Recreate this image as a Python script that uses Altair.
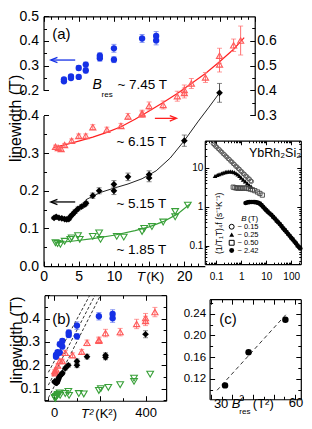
import altair as alt
import pandas as pd

# ---------------- data ----------------
# Panel (a): ESR linewidth vs temperature for four resonance fields
blue_T = [2.9, 2.9, 3.9, 3.9, 5.0, 5.0, 6.0, 6.0, 8.0, 8.0, 10.0, 10.0, 14.0, 16.0, 16.0]
blue_lw = [0.236, 0.244, 0.249, 0.256, 0.254, 0.290, 0.280, 0.304, 0.330, 0.340, 0.324, 0.370, 0.410, 0.420, 0.402]
blue_err = [0.006, 0.006, 0.007, 0.007, 0.007, 0.010, 0.010, 0.010, 0.012, 0.012, 0.012, 0.016, 0.016, 0.018, 0.018]

red_T = [1.7, 2.1, 2.5, 3.0, 4.0, 5.0, 6.0, 7.0, 9.0, 11.0, 12.0, 14.0, 14.0, 15.0, 17.0, 19.0, 20.0, 20.0, 21.0, 23.0, 25.0, 25.0, 27.0, 28.0]
red_lw = [0.175, 0.170, 0.166, 0.182, 0.199, 0.218, 0.218, 0.253, 0.243, 0.258, 0.296, 0.305, 0.309, 0.338, 0.342, 0.377, 0.390, 0.402, 0.428, 0.452, 0.504, 0.539, 0.581, 0.600]
red_err = [0.006, 0.006, 0.006, 0.006, 0.007, 0.008, 0.008, 0.010, 0.010, 0.010, 0.012, 0.012, 0.012, 0.016, 0.016, 0.020, 0.020, 0.020, 0.020, 0.020, 0.030, 0.030, 0.025, 0.058]
red_fit_T = [1.5, 3.0, 5.0, 7.0, 9.0, 11.0, 13.0, 15.0, 17.0, 19.0, 21.0, 23.0, 25.0, 27.0, 28.5]
red_fit = [0.172, 0.182, 0.197, 0.213, 0.232, 0.255, 0.285, 0.318, 0.352, 0.388, 0.428, 0.468, 0.515, 0.565, 0.612]

blk_T = [1.5, 1.8, 2.2, 2.6, 3.0, 3.3, 3.6, 3.8, 4.0, 4.25, 4.5, 4.9, 5.4, 5.85, 6.05, 7.0, 7.9, 10.0, 10.0, 12.0, 15.0, 15.0, 20.0, 25.0]
blk_lw = [0.128, 0.131, 0.128, 0.127, 0.125, 0.124, 0.125, 0.131, 0.135, 0.140, 0.145, 0.152, 0.158, 0.163, 0.167, 0.187, 0.200, 0.200, 0.217, 0.237, 0.234, 0.243, 0.333, 0.460]
blk_err = [0.004, 0.004, 0.004, 0.004, 0.004, 0.004, 0.004, 0.004, 0.004, 0.004, 0.005, 0.005, 0.005, 0.005, 0.005, 0.007, 0.008, 0.010, 0.010, 0.010, 0.010, 0.010, 0.015, 0.025]
blk_fit_T = [6.0, 8.0, 10.0, 12.0, 14.0, 16.0, 18.0, 20.0, 22.0, 23.5, 25.0]
blk_fit = [0.176, 0.195, 0.207, 0.218, 0.232, 0.253, 0.287, 0.333, 0.385, 0.422, 0.460]

grn_T = [1.7, 2.0, 2.4, 3.0, 3.8, 4.0, 4.9, 5.15, 7.0, 7.9, 8.1, 10.4, 11.4, 14.0, 14.3, 15.4, 17.0, 18.7, 18.7, 20.5]
grn_lw = [0.062, 0.060, 0.058, 0.066, 0.071, 0.075, 0.081, 0.071, 0.079, 0.088, 0.071, 0.079, 0.077, 0.092, 0.100, 0.105, 0.117, 0.145, 0.131, 0.162]
grn_fit_T = [1.7, 4.0, 7.0, 10.0, 13.0, 15.0, 17.0, 19.0, 20.8]
grn_fit = [0.062, 0.066, 0.073, 0.082, 0.094, 0.104, 0.118, 0.138, 0.165]

# Inset: (1/T1T)_4f vs T (log-log) for four fields
circ_x = [0.075, 0.085, 0.095, 0.105, 0.12, 0.135, 0.15, 0.17, 0.19, 0.215, 0.24, 0.27, 0.3, 0.34, 0.38, 0.43,
          0.48, 0.54, 0.6, 0.68, 0.76, 0.85, 0.95, 1.07, 1.2, 1.35, 1.5, 1.7, 1.9, 2.15, 2.4, 2.6]
circ_y = [42, 39, 36, 34.5, 31, 29.5, 27, 25.5, 23, 22, 20, 19, 17.2, 16.5, 14.8, 14.3,
          12.8, 12.3, 11.0, 10.7, 9.6, 9.3, 8.3, 8.0, 7.1, 6.9, 6.2, 6.0, 5.3, 5.2, 4.6, 4.5]
tri_x = [0.09, 0.11, 0.13, 0.16, 0.19, 0.23, 0.27, 0.32, 0.38, 0.45, 0.53, 0.62, 0.73, 0.86, 1.0, 1.2, 1.45, 1.75, 2.1, 2.5]
tri_y = [6.2, 6.6, 6.9, 7.2, 7.5, 7.8, 8.0, 8.1, 8.1, 8.0, 7.7, 7.3, 6.8, 6.2, 5.6, 5.0, 4.5, 4.0, 3.6, 3.3]
sq_x = [0.48, 0.56, 0.65, 0.75, 0.87, 1.0, 1.15, 1.35, 1.6, 1.9, 2.3, 2.8, 3.5, 4.5, 5.6, 7.0]
sq_y = [3.2, 3.1, 3.05, 3.0, 3.05, 3.0, 3.0, 3.05, 3.0, 2.95, 2.85, 2.75, 2.6, 2.4, 2.2, 2.0]
bc_x = [1.5, 1.8, 2.1, 2.5, 3.0, 3.5, 4.1, 4.8, 5.6, 6.5, 7.5, 8.7, 10, 11.5, 13.5, 16, 19, 22, 26, 30, 35, 41,
        48, 56, 65, 75, 87, 100, 115, 135, 155, 180, 205, 230]
bc_y = [1.25, 1.3, 1.32, 1.33, 1.33, 1.32, 1.3, 1.26, 1.2, 1.1, 1.0, 0.9, 0.82, 0.75, 0.68, 0.62, 0.55, 0.5, 0.44,
        0.4, 0.36, 0.32, 0.28, 0.25, 0.225, 0.2, 0.18, 0.16, 0.145, 0.128, 0.115, 0.1, 0.092, 0.085]
leg_labels = ["~ 0.15", "~ 0.25", "~ 0.50", "~ 2.42"]

# Panel (c): linewidth slope vs B_res^2
c_B = [5.15, 6.15, 7.45]
c_lw = [0.108, 0.169, 0.229]
c_fit_x = [22.7, 56.0]
c_fit_y = [0.099, 0.2395]

# Panel (b): dashed guide lines (T^2, linewidth)
dash_id = ["A", "A", "B", "B", "C", "C"]
dash_T2 = [-25, 155, -25, 178, -25, 202]
dash_lw = [0.170, 0.498, 0.115, 0.498, 0.060, 0.498]

# ---------------- layout helpers ----------------
W, H = 296, 413
FONT = "Liberation Sans"


def px(x):
    return (x - 2.0) * 0.96


def py(y):
    return y * 0.972 + 1.5


def S(dom, a, b, typ="linear"):
    return alt.Scale(type=typ, domain=dom, range=[a, b], zero=False, nice=False)


layers = []


def ax_layer(ch, scale, dom, **kw):
    base = dict(title=None, grid=False, labelFont=FONT, labelColor="black", domainColor="black",
                tickColor="black", domainWidth=1.2, tickWidth=1, labelOverlap=False, labelFlush=False)
    base.update(kw)
    df = pd.DataFrame({"v": dom})
    if ch == "x":
        enc = dict(x=alt.X("v:Q", scale=scale, axis=alt.Axis(**base)))
    else:
        enc = dict(y=alt.Y("v:Q", scale=scale, axis=alt.Axis(**base)))
    layers.append(alt.Chart(df).mark_point(opacity=0).encode(**enc))


def edge(side, scale, dom, pos, major, minor, maj=5, mnr=3):
    if side == "left":
        ch, orient, off = "y", "right", px(pos) - W
    elif side == "right":
        ch, orient, off = "y", "left", -px(pos)
    elif side == "top":
        ch, orient, off = "x", "bottom", py(pos) - H
    else:
        ch, orient, off = "x", "top", -py(pos)
    ax_layer(ch, scale, dom, orient=orient, offset=off, values=major, labels=False, ticks=True,
             tickSize=maj, domain=True)
    if minor:
        ax_layer(ch, scale, dom, orient=orient, offset=off, values=minor, labels=False, ticks=True,
                 tickSize=mnr, domain=False)


def labels(side, scale, dom, pos, values, fmt, size, pad):
    if side == "left":
        ch, orient, off = "y", "left", -px(pos)
    elif side == "right":
        ch, orient, off = "y", "right", px(pos) - W
    else:
        ch, orient, off = "x", "bottom", py(pos) - H
    ax_layer(ch, scale, dom, orient=orient, offset=off, values=values, labels=True, ticks=False,
             tickSize=0, domain=False, labelPadding=pad, labelFontSize=size, format=fmt)


def txt(s, x, y, size=13, align="left", italic=False, angle=None, color="black", baseline="middle"):
    kw = dict(align=align, baseline=baseline, fontSize=size, font=FONT, color=color)
    if italic:
        kw["fontStyle"] = "italic"
    if angle is not None:
        kw["angle"] = angle
    layers.append(alt.Chart(pd.DataFrame({"t": [s]})).mark_text(**kw).encode(
        text="t:N", x=alt.value(px(x)), y=alt.value(py(y))))


def arrow(x0, x1, y, color, head="left"):
    layers.append(alt.Chart(pd.DataFrame({"a": [0]})).mark_rule(color=color, strokeWidth=1.3).encode(
        x=alt.value(px(x0)), x2=alt.value(px(x1)), y=alt.value(py(y))))
    if head == "left":
        shape, hx = "M1,-0.8L-1,0L1,0.8", x0 + 3
    else:
        shape, hx = "M-1,-0.8L1,0L-1,0.8", x1 - 3
    layers.append(alt.Chart(pd.DataFrame({"a": [0]})).mark_point(
        shape=shape, size=45, filled=False, color=color, strokeWidth=1.3, opacity=1).encode(
        x=alt.value(px(hx)), y=alt.value(py(y))))


def errbars(df, xf, xs, ys, color, cap=5):
    layers.append(alt.Chart(df).mark_rule(color=color, strokeWidth=1).encode(
        x=alt.X(f"{xf}:Q", scale=xs, axis=None), y=alt.Y("lo:Q", scale=ys, axis=None), y2="hi:Q"))
    layers.append(alt.Chart(df).transform_fold(["lo", "hi"], as_=["k", "val"]).mark_tick(
        orient="horizontal", size=cap, thickness=1, color=color).encode(
        x=alt.X(f"{xf}:Q", scale=xs, axis=None), y=alt.Y("val:Q", scale=ys, axis=None)))


def pts(df, xf, yf, xs, ys, **mk):
    layers.append(alt.Chart(df).mark_point(opacity=1, **mk).encode(
        x=alt.X(f"{xf}:Q", scale=xs, axis=None), y=alt.Y(f"{yf}:Q", scale=ys, axis=None)))


def curve(df, xf, yf, xs, ys, color, width=1.0, dash=None, detail=None):
    kw = dict(color=color, strokeWidth=width)
    if dash:
        kw["strokeDash"] = dash
    enc = dict(x=alt.X(f"{xf}:Q", scale=xs, axis=None), y=alt.Y(f"{yf}:Q", scale=ys, axis=None))
    if detail:
        enc["detail"] = f"{detail}:N"
    layers.append(alt.Chart(df).mark_line(**kw).encode(**enc))


BLUE, BLUE_E = "#1530e6", "#5b70f0"
RED, RED_P, RED_E = "#ff2020", "#ff5a5a", "#ff7070"
GREEN = "#38a038"

# ---------------- data frames ----------------
dB = pd.DataFrame({"T": blue_T, "lw": blue_lw, "err": blue_err})
dR = pd.DataFrame({"T": red_T, "lw": red_lw, "err": red_err})
dK = pd.DataFrame({"T": blk_T, "lw": blk_lw, "err": blk_err})
dG = pd.DataFrame({"T": grn_T, "lw": grn_lw})
for d in (dB, dR, dK):
    d["lo"] = d["lw"] - d["err"]
    d["hi"] = d["lw"] + d["err"]
for d in (dB, dR, dK, dG):
    d["T2"] = d["T"] ** 2

# ---------------- panel (a) ----------------
XA = S([0, 30], px(39), px(259))
XAb = S([0, 30 * (207 - 39) / (259 - 39)], px(39), px(207))
YBL = S([0.2, 0.5], py(83), py(7))
YK = S([0.0, 0.4], py(264), py(109))
YR = S([0.3, 0.697], py(109), py(7))

edge("top", XA, [0, 30], 7, [0, 5, 10, 15, 20, 25, 30], [t for t in range(31) if t % 5])
edge("bottom", XAb, [0, 22.909], 264, [0, 5, 10, 15, 20], [t for t in range(23) if t % 5])
edge("left", YBL, [0.2, 0.5], 39, [0.2, 0.3, 0.4, 0.5], [0.25, 0.35, 0.45])
edge("left", YK, [0.0, 0.4], 39, [0.0, 0.1, 0.2, 0.3, 0.4], [0.05, 0.15, 0.25, 0.35])
edge("right", YR, [0.3, 0.697], 259, [0.3, 0.4, 0.5, 0.6], [0.35, 0.45, 0.55, 0.65])
labels("left", YBL, [0.2, 0.5], 39, [0.2, 0.3, 0.4, 0.5], ".1f", 14, 5)
labels("left", YK, [0.0, 0.4], 39, [0.0, 0.1, 0.2, 0.3, 0.4], ".1f", 14, 5)
labels("right", YR, [0.3, 0.697], 259, [0.3, 0.4, 0.5, 0.6], ".1f", 14, 2)
labels("bottom", XAb, [0, 22.909], 264, [0, 5, 10, 20], "d", 14, 3)

curve(pd.DataFrame({"T": red_fit_T, "v": red_fit}), "T", "v", XA, YR, RED, 1.2)
curve(pd.DataFrame({"T": blk_fit_T, "v": blk_fit}), "T", "v", XA, YK, "#222222", 1.0)
curve(pd.DataFrame({"T": grn_fit_T, "v": grn_fit}), "T", "v", XA, YK, GREEN, 1.2)
errbars(dB, "T", XA, YBL, BLUE_E)
errbars(dR, "T", XA, YR, RED_E)
errbars(dK, "T", XA, YK, "#555555")
pts(dB, "T", "lw", XA, YBL, shape="circle", filled=True, size=40, color=BLUE)
pts(dR, "T", "lw", XA, YR, shape="triangle-up", filled=False, size=38, color=RED_P, strokeWidth=1.1)
pts(dK, "T", "lw", XA, YK, shape="diamond", filled=True, size=45, color="black")
pts(dG, "T", "lw", XA, YK, shape="triangle-down", filled=False, size=45, color=GREEN, strokeWidth=1.1)

arrow(47, 72, 52, BLUE, "left")
arrow(155, 177, 112, RED, "right")
arrow(47, 72, 198, "black", "left")
txt("(a)", 48, 25, 15)
txt("B", 90, 78, 14, italic=True)
txt("res", 99.5, 87.5, 8)
txt("~ 7.45 T", 116, 78, 13.5)
txt("~ 6.15 T", 115, 136, 13.5)
txt("~ 5.15 T", 115, 200, 13.5)
txt("~ 1.85 T", 115, 247.5, 13.5)
txt("T", 136, 275, 13.5, italic=True)
txt("(K)", 146, 275, 13.5)
txt("linewidth (T)", 10, 112, 16, align="center", angle=270)

# ---------------- inset ----------------
XI = S([0.035, 242], px(207), px(307), "log")
YI = S([0.0335, 50], py(262), py(135), "log")
xi_min = [m * d for d in (0.01, 0.1, 1, 10, 100) for m in range(2, 10) if 0.035 <= m * d <= 242]
yi_min = [m * d for d in (0.01, 0.1, 1, 10) for m in range(2, 10) if 0.0335 <= m * d <= 50]
edge("bottom", XI, [0.035, 242], 262, [0.1, 1, 10, 100], xi_min, 4, 2)
edge("top", XI, [0.035, 242], 135, [0.1, 1, 10, 100], xi_min, 4, 2)
edge("left", YI, [0.0335, 50], 207, [0.1, 1, 10], yi_min, 4, 2)
edge("right", YI, [0.0335, 50], 307, [0.1, 1, 10], yi_min, 4, 2)
labels("bottom", XI, [0.035, 242], 262, [0.1, 1, 10, 100], "~g", 10, 7)
labels("left", YI, [0.0335, 50], 207, [0.1, 1, 10], "~g", 10, 2)

pts(pd.DataFrame({"x": circ_x, "y": circ_y}), "x", "y", XI, YI, shape="circle", filled=False, size=16,
    color="#555555", strokeWidth=0.9)
pts(pd.DataFrame({"x": tri_x, "y": tri_y}), "x", "y", XI, YI, shape="triangle-up", filled=True, size=22,
    color="black")
pts(pd.DataFrame({"x": sq_x, "y": sq_y}), "x", "y", XI, YI, shape="square", filled=False, size=18,
    color="#444444", strokeWidth=0.9)
pts(pd.DataFrame({"x": bc_x, "y": bc_y}), "x", "y", XI, YI, shape="circle", filled=True, size=22,
    color="black")

txt("YbRh\u2082Si\u2082", 253, 148, 12.5)
txt("(1/T\u2081T)\u2084f (s\u207b\u00b9K\u207b\u00b9)", 222, 220, 8.5, align="center", angle=270)
txt("B", 245, 215.5, 8, italic=True)
txt("(T)", 252, 215.5, 8)
leg_y = [223.5, 231.5, 240, 248]
leg_shape = [("circle", False), ("triangle-up", True), ("square", False), ("circle", True)]
for lab, yy, (shp, fil) in zip(leg_labels, leg_y, leg_shape):
    layers.append(alt.Chart(pd.DataFrame({"a": [0]})).mark_point(
        shape=shp, filled=fil, size=24, color="black", opacity=1, strokeWidth=1).encode(
        x=alt.value(px(235)), y=alt.value(py(yy))))
    txt(lab, 241, yy, 7.5)

# ---------------- panel (b) ----------------
XB = S([-42, 490], px(40), px(166.7))
YB = S([0.048, 0.5], py(402.5), py(294))
edge("top", XB, [-42, 490], 294, [0, 200, 400], [-25, 100, 300], 5, 3)
edge("bottom", XB, [-42, 490], 402.5, [0, 200, 400], [-25, 100, 300], 5, 3)
edge("left", YB, [0.048, 0.5], 40, [0.1, 0.2, 0.3, 0.4, 0.5], [0.05, 0.15, 0.25, 0.35, 0.45], 5, 3)
edge("right", YB, [0.048, 0.5], 166.7, [0.1, 0.2, 0.3, 0.4, 0.5], [0.05, 0.15, 0.25, 0.35, 0.45], 5, 3)
labels("left", YB, [0.048, 0.5], 40, [0.1, 0.2, 0.3, 0.4], ".1f", 14, 5)
labels("bottom", XB, [-42, 490], 402.5, [0, 400], "d", 13, 6)

curve(pd.DataFrame({"id": dash_id, "x": dash_T2, "y": dash_lw}), "x", "y", XB, YB, "#333333", 1.0,
      dash=[3, 2], detail="id")
inb = "datum.T2 <= 485"
for d, col, ecol in ((dB, BLUE, BLUE_E), (dR, RED_P, RED_E), (dK, "black", "#555555")):
    layers.append(alt.Chart(d).transform_filter(inb).mark_rule(color=ecol, strokeWidth=1).encode(
        x=alt.X("T2:Q", scale=XB, axis=None), y=alt.Y("lo:Q", scale=YB, axis=None), y2="hi:Q"))
    layers.append(alt.Chart(d).transform_filter(inb).transform_fold(["lo", "hi"], as_=["k", "val"]).mark_tick(
        orient="horizontal", size=5, thickness=1, color=ecol).encode(
        x=alt.X("T2:Q", scale=XB, axis=None), y=alt.Y("val:Q", scale=YB, axis=None)))
for d, shp, fil, col, sz in ((dB, "circle", True, BLUE, 40), (dR, "triangle-up", False, RED_P, 38),
                             (dK, "diamond", True, "black", 45), (dG, "triangle-down", False, GREEN, 45)):
    layers.append(alt.Chart(d).transform_filter(inb).mark_point(
        shape=shp, filled=fil, size=sz, color=col, opacity=1, strokeWidth=1.1).encode(
        x=alt.X("T2:Q", scale=XB, axis=None), y=alt.Y("lw:Q", scale=YB, axis=None)))

txt("(b)", 48, 318, 15)
txt("T\u00b2", 78, 416, 13, italic=True)
txt("(K\u00b2)", 93, 416, 13)
txt("linewidth (T)", 11, 340, 16, align="center", angle=270)

# ---------------- panel (c) ----------------
XC = S([19.1, 62.9], px(212), px(307))
YC = S([0.0824, 0.2669], py(401), py(298))
edge("top", XC, [19.1, 62.9], 298, [20, 30, 40, 50, 60], [25, 35, 45, 55], 5, 3)
edge("bottom", XC, [19.1, 62.9], 401, [20, 30, 40, 50, 60], [25, 35, 45, 55], 5, 3)
edge("left", YC, [0.0824, 0.2669], 212, [0.12, 0.16, 0.20, 0.24], [0.10, 0.14, 0.18, 0.22, 0.26], 5, 3)
edge("right", YC, [0.0824, 0.2669], 307, [0.12, 0.16, 0.20, 0.24], [0.10, 0.14, 0.18, 0.22, 0.26], 5, 3)
labels("left", YC, [0.0824, 0.2669], 212, [0.12, 0.16, 0.20, 0.24], ".2f", 11.5, 4)

dC = pd.DataFrame({"B": c_B, "lw": c_lw})
dC["B2"] = dC["B"] ** 2
curve(pd.DataFrame({"x": c_fit_x, "y": c_fit_y}), "x", "y", XC, YC, "#333333", 1.0, dash=[4, 3])
pts(dC, "B2", "lw", XC, YC, shape="circle", filled=True, size=42, color="black")

txt("(c)", 222, 318, 15)
txt("30", 224, 406, 13, align="center")
txt("B", 235, 406, 13, italic=True)
txt("2", 243, 400, 8.5)
txt("res", 243, 414, 8)
txt("(T\u00b2)", 257, 406, 13)
txt("60", 302, 405, 13, align="center")

chart = alt.layer(*layers).resolve_scale(x="independent", y="independent").resolve_axis(
    x="independent", y="independent").properties(
    width=W, height=H, autosize=alt.AutoSizeParams(type="none"), padding=0
).configure_view(stroke=None).configure_axis(grid=False)

chart.save("out.html", embed_options={"renderer": "svg", "actions": False})
